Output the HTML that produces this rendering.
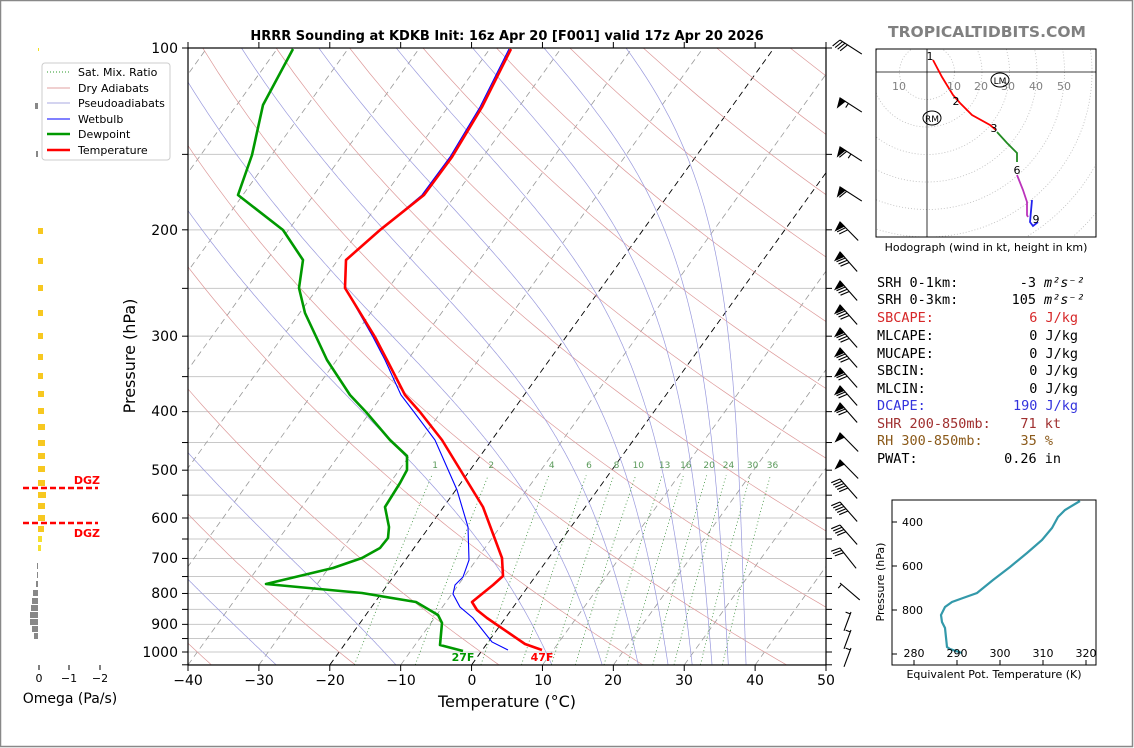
<!DOCTYPE html>
<html><head><meta charset="utf-8">
<style>
html,body{margin:0;padding:0;background:#fff;}
svg{display:block;font-family:"DejaVu Sans","Liberation Sans",sans-serif;}
.mono{font-family:"DejaVu Sans Mono","Liberation Mono",monospace;font-size:13.5px;}
</style></head><body>
<svg id="s" width="1134" height="748" viewBox="0 0 1134 748" xmlns="http://www.w3.org/2000/svg">
<rect x="0.5" y="0.5" width="1132" height="746" fill="#fff" stroke="#888" stroke-width="1.5"/>
<defs>
<clipPath id="cm"><rect x="188" y="48" width="638" height="617"/></clipPath>
<clipPath id="ch"><rect x="876" y="49" width="220" height="188"/></clipPath>
</defs>
<g id="bg" clip-path="url(#cm)"></g>
<g id="prof" clip-path="url(#cm)"></g>
<rect x="188" y="48" width="638" height="617" fill="none" stroke="#000" stroke-width="1.2"/>
<g id="ticks"></g>
<text x="507" y="40" text-anchor="middle" font-size="13" font-weight="bold">HRRR Sounding at KDKB Init: 16z Apr 20 [F001] valid 17z Apr 20 2026</text>
<text x="987" y="37" text-anchor="middle" font-size="15.5" font-weight="bold" fill="#808080">TROPICALTIDBITS.COM</text>
<g font-size="14" text-anchor="end">
<text x="178" y="53">100</text>
<text x="178" y="235">200</text>
<text x="178" y="341">300</text>
<text x="178" y="416">400</text>
<text x="178" y="475">500</text>
<text x="178" y="523">600</text>
<text x="178" y="563">700</text>
<text x="178" y="598">800</text>
<text x="178" y="629">900</text>
<text x="178" y="657">1000</text>
</g>
<g font-size="14" text-anchor="middle">
<text x="188" y="685">−40</text><text x="259" y="685">−30</text><text x="330" y="685">−20</text>
<text x="401" y="685">−10</text><text x="472" y="685">0</text><text x="543" y="685">10</text>
<text x="613" y="685">20</text><text x="684" y="685">30</text><text x="755" y="685">40</text><text x="826" y="685">50</text>
</g>
<text x="507" y="707" text-anchor="middle" font-size="16">Temperature (°C)</text>
<text transform="translate(135,356) rotate(-90)" text-anchor="middle" font-size="16">Pressure (hPa)</text>
<text x="463" y="661" text-anchor="middle" font-size="11" font-weight="bold" fill="#009900">27F</text>
<text x="542" y="661" text-anchor="middle" font-size="11" font-weight="bold" fill="#ff0000">47F</text>
<g id="mrl" font-size="9" fill="#5a9a5a" text-anchor="middle"></g>
<rect x="42" y="63" width="128" height="97" rx="3" fill="#fff" stroke="#ccc"/>
<g font-size="11">
<line x1="47" y1="72" x2="70" y2="72" stroke="#2a9a2a" stroke-dasharray="1,2"/><text x="78" y="76">Sat. Mix. Ratio</text>
<line x1="47" y1="88" x2="70" y2="88" stroke="#e0a0a0"/><text x="78" y="92">Dry Adiabats</text>
<line x1="47" y1="103" x2="70" y2="103" stroke="#aaaae0"/><text x="78" y="107">Pseudoadiabats</text>
<line x1="47" y1="119" x2="70" y2="119" stroke="#0000ff"/><text x="78" y="123">Wetbulb</text>
<line x1="47" y1="134" x2="70" y2="134" stroke="#009900" stroke-width="2.5"/><text x="78" y="138">Dewpoint</text>
<line x1="47" y1="150" x2="70" y2="150" stroke="#ff0000" stroke-width="2.5"/><text x="78" y="154">Temperature</text>
</g>
<g id="om"></g>
<line x1="23" y1="488" x2="98" y2="488" stroke="#ff0000" stroke-width="2.5" stroke-dasharray="6,3"/>
<line x1="23" y1="523" x2="98" y2="523" stroke="#ff0000" stroke-width="2.5" stroke-dasharray="6,3"/>
<text x="100" y="484" text-anchor="end" font-size="11" font-weight="bold" fill="#ff0000">DGZ</text>
<text x="100" y="537" text-anchor="end" font-size="11" font-weight="bold" fill="#ff0000">DGZ</text>
<g stroke="#000"><line x1="39" y1="665" x2="39" y2="670"/><line x1="69" y1="665" x2="69" y2="670"/><line x1="100" y1="665" x2="100" y2="670"/></g>
<g font-size="11" text-anchor="middle"><text x="39" y="682">0</text><text x="69" y="682">−1</text><text x="100" y="682">−2</text></g>
<text x="70" y="703" text-anchor="middle" font-size="14">Omega (Pa/s)</text>
<g id="wb" stroke="#000" stroke-width="1.1" fill="#000"></g>
<g clip-path="url(#ch)" id="hod"></g>
<rect x="876" y="49" width="220" height="188" fill="none" stroke="#000"/>
<g font-size="11" fill="#808080" text-anchor="middle">
<text x="899" y="90">10</text><text x="954" y="90">10</text><text x="981" y="90">20</text><text x="1008" y="90">30</text><text x="1036" y="90">40</text><text x="1064" y="90">50</text>
</g>
<ellipse cx="1000" cy="80" rx="9" ry="7" fill="none" stroke="#000"/><text x="1000" y="84" font-size="9" text-anchor="middle">LM</text>
<ellipse cx="932" cy="118" rx="9" ry="7" fill="none" stroke="#000"/><text x="932" y="122" font-size="9" text-anchor="middle">RM</text>
<g font-size="11" text-anchor="middle">
<text x="930" y="60">1</text><text x="956" y="105">2</text><text x="994" y="132">3</text><text x="1017" y="174">6</text><text x="1036" y="223">9</text>
</g>
<text x="986" y="251" text-anchor="middle" font-size="11">Hodograph (wind in kt, height in km)</text>
<g class="mono">
<text x="877" y="287">SRH 0-1km:</text><text x="1036" y="287" text-anchor="end">-3</text><text x="1044" y="287" font-style="italic">m²s⁻²</text>
<text x="877" y="304">SRH 0-3km:</text><text x="1036" y="304" text-anchor="end">105</text><text x="1044" y="304" font-style="italic">m²s⁻²</text>
<text x="877" y="322" fill="#d62728">SBCAPE:</text><text x="1078" y="322" text-anchor="end" fill="#d62728">6 J/kg</text>
<text x="877" y="340">MLCAPE:</text><text x="1078" y="340" text-anchor="end">0 J/kg</text>
<text x="877" y="358">MUCAPE:</text><text x="1078" y="358" text-anchor="end">0 J/kg</text>
<text x="877" y="375">SBCIN:</text><text x="1078" y="375" text-anchor="end">0 J/kg</text>
<text x="877" y="393">MLCIN:</text><text x="1078" y="393" text-anchor="end">0 J/kg</text>
<text x="877" y="410" fill="#3333dd">DCAPE:</text><text x="1078" y="410" text-anchor="end" fill="#3333dd">190 J/kg</text>
<text x="877" y="428" fill="#a03030">SHR 200-850mb:</text><text x="1061" y="428" text-anchor="end" fill="#a03030">71 kt</text>
<text x="877" y="445" fill="#8b5a1a">RH 300-850mb:</text><text x="1053" y="445" text-anchor="end" fill="#8b5a1a">35 %</text>
<text x="877" y="463">PWAT:</text><text x="1061" y="463" text-anchor="end">0.26 in</text>
</g>
<rect x="892" y="500" width="204" height="165" fill="none" stroke="#000"/>
<polyline fill="none" stroke="#3399aa" stroke-width="2.2" points="1080,501 1065,510 1058,517 1052,528 1042,540 1027,553 1010,567 993,580 977,593 963,598 952,602 945,607 941,615 942,622 945,628 947,647 950,649 962,653"/>
<g stroke="#000"><line x1="892" y1="522" x2="897" y2="522"/><line x1="892" y1="566" x2="897" y2="566"/><line x1="892" y1="610" x2="897" y2="610"/><line x1="892" y1="654" x2="897" y2="654"/>
<line x1="914" y1="665" x2="914" y2="660"/><line x1="957" y1="665" x2="957" y2="660"/><line x1="1000" y1="665" x2="1000" y2="660"/><line x1="1043" y1="665" x2="1043" y2="660"/><line x1="1086" y1="665" x2="1086" y2="660"/></g>
<g font-size="11"><text x="902" y="526">400</text><text x="902" y="570">600</text><text x="902" y="614">800</text></g>
<g font-size="11" text-anchor="middle"><text x="914" y="657">280</text><text x="957" y="657">290</text><text x="1000" y="657">300</text><text x="1043" y="657">310</text><text x="1086" y="657">320</text></g>
<text x="994" y="678" text-anchor="middle" font-size="11">Equivalent Pot. Temperature (K)</text>
<text transform="translate(884,582) rotate(-90)" text-anchor="middle" font-size="11">Pressure (hPa)</text>
</svg>
<script>
(function(){
var NS="http://www.w3.org/2000/svg";
function el(parent,tag,attrs){var e=document.createElementNS(NS,tag);for(var k in attrs)e.setAttribute(k,attrs[k]);parent.appendChild(e);return e;}
function Y(p){return 48+604*Math.log10(p/100);}
function X(T,p){return 188+(T+40)*7.089+(665-Y(p))*0.72;}
var bg=document.getElementById('bg');
for(var p=100;p<=1050;p+=50){el(bg,'line',{x1:188,x2:826,y1:Y(p),y2:Y(p),stroke:'#c8c8c8','stroke-width':1});}
for(var T=-140;T<=50;T+=10){var blk=(T==-20||T==0);
 el(bg,'line',{x1:X(T,1050),y1:Y(1050),x2:X(T,100),y2:Y(100),stroke:blk?'#000':'#999','stroke-width':blk?0.9:0.8,'stroke-dasharray':'6,4'});}
for(var th=-60;th<=240;th+=20){var pts=[];for(var p=1050;p>=100;p-=10){var t=(th+273.15)*Math.pow(p/1000,0.2857)-273.15;pts.push(X(t,p).toFixed(1)+','+Y(p).toFixed(1));}
 el(bg,'polyline',{points:pts.join(' '),fill:'none',stroke:'#dd9999','stroke-width':0.7});}
function es(t){return 6.112*Math.exp(17.67*t/(t+243.5));}
var starts=[-27.6,-10.7,11.3,18.4,23.5,27.7,31.1,33.9,36.2,38.7];
starts.forEach(function(t0){var t=t0,pts=[];for(var p=1050;p>=100;p-=2){pts.push(X(t,p).toFixed(1)+','+Y(p).toFixed(1));
 var TK=t+273.15,e=es(t),rs=0.622*e/(p-e);var dTdp=(287*TK+2.5e6*rs)/(p*(1004+2.5e6*2.5e6*rs*0.622/(287*TK*TK)));t-=dTdp*2;}
 el(bg,'polyline',{points:pts.join(' '),fill:'none',stroke:'#9999dd','stroke-width':0.7});});
var mrl=document.getElementById('mrl');
[1,2,4,6,8,10,13,16,20,24,30,36].forEach(function(w){var pts=[];function td(p){var e=w*p/(622+w);var l=Math.log(e/6.112);return 243.5*l/(17.67-l);}
 for(var p=1050;p>=505;p-=15){pts.push(X(td(p),p).toFixed(1)+','+Y(p).toFixed(1));}
 el(bg,'polyline',{points:pts.join(' '),fill:'none',stroke:'#3a8f3a','stroke-width':0.8,'stroke-dasharray':'1,2.5'});
 var t=el(mrl,'text',{x:X(td(495),495).toFixed(1),y:468});t.textContent=String(w);});
var prof=document.getElementById('prof');
var tpts="511,49 482,107 452,157 424,195 380,230 346,260 345,288 375,337 387,360 405,395 420,412 442,440 483,507 502,558 503,576 493,585 472,602 477,610 487,618 525,644 542,650";
var wpts="509,49 480,107 450,157 422,195 380,230 346,260 345,288 373,337 385,360 401,395 414,412 435,440 457,490 468,527 469,560 463,577 455,585 453,594 460,607 473,618 492,642 508,650";
var dpts="293,49 263,105 252,155 238,195 283,230 303,260 299,288 305,313 327,360 350,395 366,412 390,440 407,456 407,470 400,483 385,507 389,527 388,538 380,548 362,558 333,568 266,584 362,593 416,602 438,615 442,623 440,645 463,651";
el(prof,'polyline',{points:wpts,fill:'none',stroke:'#0000ff','stroke-width':1.1});
el(prof,'polyline',{points:dpts,fill:'none',stroke:'#009900','stroke-width':2.6,'stroke-linejoin':'round'});
el(prof,'polyline',{points:tpts,fill:'none',stroke:'#ff0000','stroke-width':2.6,'stroke-linejoin':'round'});
var tk=document.getElementById('ticks');
for(var p=100;p<=1050;p+=50){el(tk,'line',{x1:182,x2:188,y1:Y(p),y2:Y(p),stroke:'#000'});el(tk,'line',{x1:826,x2:832,y1:Y(p),y2:Y(p),stroke:'#000'});}
for(var T=-40;T<=50;T+=10){var x=188+(T+40)*7.089;el(tk,'line',{x1:x,x2:x,y1:665,y2:671,stroke:'#000'});el(tk,'line',{x1:x,x2:x,y1:48,y2:42,stroke:'#000'});}
var om=document.getElementById('om');
el(om,'rect',{x:38,y:48,width:1,height:3,fill:'#f0e020'});
el(om,'rect',{x:35,y:103,width:3,height:6,fill:'#888'});
el(om,'rect',{x:36,y:151,width:2,height:6,fill:'#888'});
var yl=[[228,5],[258,5],[285,5],[310,5],[333,5],[354,5],[373,5],[391,6],[408,6],[424,7],[440,7],[453,7],[466,7],[480,7],[492,8],[503,7],[515,7],[526,6],[536,4],[545,3]];
yl.forEach(function(b,i){el(om,'rect',{x:38,y:b[0],width:b[1],height:6,fill:i>=18?'#f5e030':'#f7c820'});});
var gl=[[563,1],[572,1],[581,2],[590,5],[598,6],[605,7],[612,8],[619,8],[626,6],[633,4]];
gl.forEach(function(b){el(om,'rect',{x:38-b[1],y:b[0],width:b[1],height:6,fill:'#888'});});
var wb=document.getElementById('wb');
var B=[[40,0.84,0.54,0,4,0],[98,0.84,0.54,1,0,1],[147,0.84,0.54,1,1,1],[187,0.84,0.54,1,1,0],[222,0.7,0.71,1,2,0],[252,0.66,0.75,1,3,0],[281,0.66,0.75,1,3,0],[305,0.66,0.75,1,3,0],[328,0.66,0.75,1,3,0],[348,0.66,0.75,1,3,0],[368,0.66,0.75,1,2,0],[386,0.66,0.75,1,2,0],[403,0.66,0.75,1,2,0],[433,0.7,0.71,1,0,0],[460,0.7,0.71,1,0,0],[479,0.66,0.75,0,5,0],[502,0.66,0.75,0,5,0],[525,0.66,0.75,0,4,0],[548,0.62,0.78,0,3,0],[583,0.76,0.65,0,0,1],[612,-0.35,0.94,0,0,1],[630,-0.35,0.94,0,0,1],[648,-0.35,0.94,0,0,1]];
B.forEach(function(b){var tx=840,ty=b[0],ux=b[1],uy=b[2],L=26;
 if(ux<0){tx=851;ty=b[0];L=20;}
 var bx=tx+ux*L,by=ty+uy*L;el(wb,'line',{x1:tx,y1:ty,x2:bx,y2:by});
 var nx=-uy,ny=ux; if(nx>0){nx=-nx;ny=-ny;}
 var s=0;
 for(var i=0;i<b[3];i++){var ax=tx+ux*s,ay=ty+uy*s,cx=tx+ux*(s+6),cy=ty+uy*(s+6);
  el(wb,'polygon',{points:ax+','+ay+' '+(ax+nx*9+ux*3)+','+(ay+ny*9+uy*3)+' '+cx+','+cy});s+=8;}
 for(var i=0;i<b[4];i++){var ax=tx+ux*s,ay=ty+uy*s;el(wb,'line',{x1:ax,y1:ay,x2:ax+nx*9+ux*-3,y2:ay+ny*9+uy*-3});s+=3;}
 for(var i=0;i<b[5];i++){var ax=tx+ux*(s+2),ay=ty+uy*(s+2);el(wb,'line',{x1:ax,y1:ay,x2:ax+nx*5,y2:ay+ny*5});}
});
var hod=document.getElementById('hod');
for(var r=10;r<=90;r+=10){el(hod,'circle',{cx:927,cy:72,r:r*2.75,fill:'none',stroke:'#bbb','stroke-dasharray':'1,2','stroke-width':0.8});}
el(hod,'line',{x1:876,x2:1096,y1:72,y2:72,stroke:'#000','stroke-width':0.8});
el(hod,'line',{x1:927,x2:927,y1:49,y2:237,stroke:'#000','stroke-width':0.8});
el(hod,'polyline',{points:"933,60 942,77 953,95 960,103 972,115 990,125 996,130",fill:'none',stroke:'#ff0000','stroke-width':1.8});
el(hod,'polyline',{points:"997,132 1007,143 1017,153 1017,162",fill:'none',stroke:'#228b22','stroke-width':1.8});
el(hod,'polyline',{points:"1017,175 1023,190 1027,202 1027,215 1028,217",fill:'none',stroke:'#bb33bb','stroke-width':1.8});
el(hod,'polyline',{points:"1032,200 1030,222 1033,226 1038,222",fill:'none',stroke:'#2222ee','stroke-width':1.8});
})();
</script>
</body></html>
